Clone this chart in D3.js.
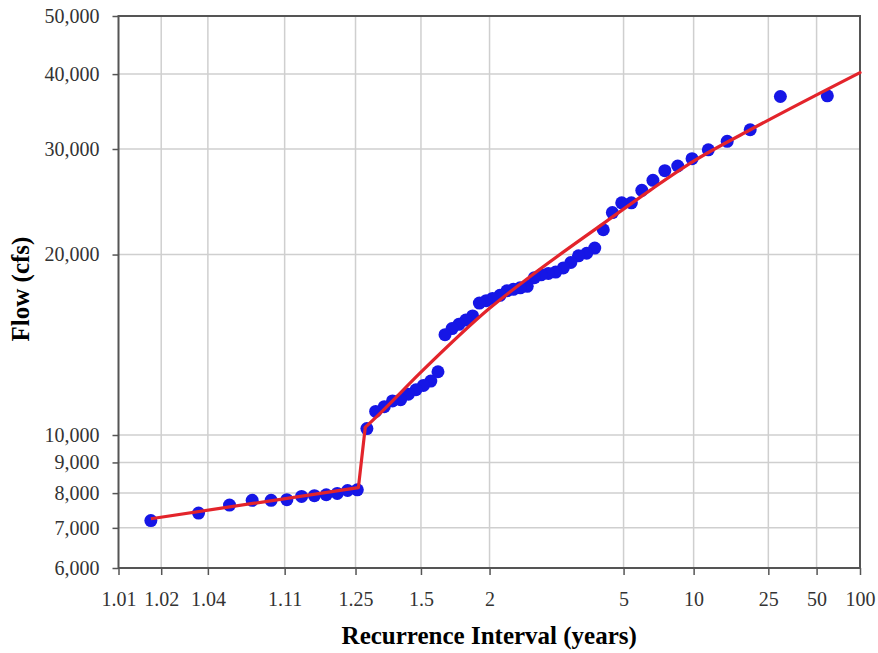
<!DOCTYPE html>
<html>
<head>
<meta charset="utf-8">
<script src="https://cdn.jsdelivr.net/npm/d3@7"></script>
<style>
  body { margin: 0; background: #fff; }
  svg text { font-family: "Liberation Serif", "Times New Roman", serif; }
</style>
</head>
<body>
<div id="chart"></div>
<script>
// annual peaks, ranked largest -> smallest, with their recurrence interval (years)
const recurrence = [59.0, 29.5, 19.67, 14.75, 11.8, 9.83, 8.43, 7.38, 6.56, 5.9,
  5.36, 4.92, 4.54, 4.21, 3.93, 3.69, 3.47, 3.28, 3.11, 2.95,
  2.81, 2.68, 2.57, 2.46, 2.36, 2.27, 2.19, 2.11, 2.03, 1.967,
  1.903, 1.844, 1.788, 1.735, 1.686, 1.639, 1.595, 1.553, 1.513, 1.475,
  1.439, 1.405, 1.372, 1.341, 1.311, 1.283, 1.255, 1.229, 1.204, 1.18,
  1.157, 1.135, 1.113, 1.093, 1.073, 1.054, 1.035, 1.017]
const flows = [36800, 36700, 32300, 30900, 29900, 28900, 28100, 27600, 26600, 25600,
  24400, 24400, 23500, 22000, 20500, 20100, 19900, 19400, 19000, 18700,
  18600, 18500, 18300, 17700, 17600, 17500, 17400, 17100, 16900, 16750,
  16600, 15800, 15550, 15300, 15050, 14700, 12750, 12300, 12100, 11900,
  11700, 11450, 11400, 11150, 10950, 10250, 8100, 8080, 7990, 7950,
  7920, 7900, 7800, 7780, 7780, 7640, 7410, 7200]

// red frequency curve: straight low part, then the fitted part after the jump
const lowT = [1.017, 1.258]
const lowQ = [7250, 8170]
const fitT = [1.278, 1.326, 1.5, 2, 2.55, 4.33, 6.4, 10, 19.6, 100]
const fitQ = [10300, 10870, 12730, 16270, 18540, 22740, 25620, 28630, 32270, 40230]

const xTicks = [1.01, 1.02, 1.04, 1.11, 1.25, 1.5, 2, 5, 10, 25, 50, 100]
const xTickLabels = ['1.01', '1.02', '1.04', '1.11', '1.25', '1.5', '2', '5', '10', '25', '50', '100']
const yTicks = [6000, 7000, 8000, 9000, 10000, 20000, 30000, 40000, 50000]

// inverse standard normal cdf (Acklam)
function normInv(p) {
  const a = [-3.969683028665376e+01, 2.209460984245205e+02, -2.759285104469687e+02, 1.383577518672690e+02, -3.066479806614716e+01, 2.506628277459239e+00]
  const b = [-5.447609879822406e+01, 1.615858368580409e+02, -1.556989798598866e+02, 6.680131188771972e+01, -1.328068155288572e+01]
  const c = [-7.784894002430293e-03, -3.223964580411365e-01, -2.400758277161838e+00, -2.549732539343734e+00, 4.374664141464968e+00, 2.938163982698783e+00]
  const d = [7.784695709041462e-03, 3.224671290700398e-01, 2.445134137142996e+00, 3.754408661907416e+00]
  const pl = 0.02425
  let q, r
  if (p < pl) {
    q = Math.sqrt(-2 * Math.log(p))
    return (((((c[0]*q+c[1])*q+c[2])*q+c[3])*q+c[4])*q+c[5]) / ((((d[0]*q+d[1])*q+d[2])*q+d[3])*q+1)
  }
  if (p > 1 - pl) {
    q = Math.sqrt(-2 * Math.log(1 - p))
    return -(((((c[0]*q+c[1])*q+c[2])*q+c[3])*q+c[4])*q+c[5]) / ((((d[0]*q+d[1])*q+d[2])*q+d[3])*q+1)
  }
  q = p - 0.5
  r = q * q
  return (((((a[0]*r+a[1])*r+a[2])*r+a[3])*r+a[4])*r+a[5])*q / (((((b[0]*r+b[1])*r+b[2])*r+b[3])*r+b[4])*r+1)
}

// recurrence interval -> normal variate of the non-exceedance probability
const zOf = t => normInv(1 - 1 / t)

const width = 878, height = 653
const plot = { left: 118.5, right: 860, top: 16, bottom: 568 }

const x = d3.scaleLinear()
  .domain([zOf(1.01), zOf(100)])
  .range([plot.left, plot.right])
const y = d3.scaleLog()
  .domain([6000, 50000])
  .range([plot.bottom, plot.top])

const svg = d3.select('#chart')
  .append('svg')
    .attr('width', width)
    .attr('height', height)

// gridlines
svg.append('g')
  .selectAll('line')
  .data(xTicks.slice(1, -1))
  .join('line')
    .attr('x1', d => x(zOf(d)))
    .attr('x2', d => x(zOf(d)))
    .attr('y1', plot.top)
    .attr('y2', plot.bottom)
    .attr('stroke', '#cfcfcf')
    .attr('stroke-width', 1.5)

svg.append('g')
  .selectAll('line')
  .data(yTicks.slice(1, -1))
  .join('line')
    .attr('x1', plot.left)
    .attr('x2', plot.right)
    .attr('y1', d => y(d))
    .attr('y2', d => y(d))
    .attr('stroke', '#cfcfcf')
    .attr('stroke-width', 1.5)

// axes
const xAxis = svg.append('g')
  .attr('transform', 'translate(0,' + plot.bottom + ')')
  .call(d3.axisBottom(x)
    .tickValues(xTicks.map(zOf))
    .tickFormat((d, i) => xTickLabels[i])
    .tickSize(7)
    .tickPadding(17))

const yAxis = svg.append('g')
  .attr('transform', 'translate(' + plot.left + ',0)')
  .call(d3.axisLeft(y)
    .tickValues(yTicks)
    .tickFormat(d3.format(','))
    .tickSize(6)
    .tickPadding(13))

for (const ax of [xAxis, yAxis]) {
  ax.select('.domain').remove()
  ax.selectAll('.tick line').attr('stroke', '#555').attr('stroke-width', 1.5)
  ax.selectAll('.tick text')
    .attr('fill', '#333')
    .style('font-size', '20px')
    .style('font-family', '"Liberation Serif", "Times New Roman", serif')
}

// plot frame
svg.append('rect')
  .attr('x', plot.left)
  .attr('y', plot.top)
  .attr('width', plot.right - plot.left)
  .attr('height', plot.bottom - plot.top)
  .attr('fill', 'none')
  .attr('stroke', '#555')
  .attr('stroke-width', 2)

// observed peaks
svg.append('g')
  .selectAll('circle')
  .data(flows)
  .join('circle')
    .attr('cx', (d, i) => x(zOf(recurrence[i])))
    .attr('cy', d => y(d))
    .attr('r', 6.5)
    .attr('fill', '#1616e6')

// frequency curve
const lowPts = lowT.map((t, i) => [x(zOf(t)), y(lowQ[i])])
lowPts.push([x(zOf(fitT[0])), y(fitQ[0])])
const fitPts = fitT.map((t, i) => [x(zOf(t)), y(fitQ[i])])

svg.append('path')
  .attr('d', d3.line()(lowPts))
  .attr('fill', 'none')
  .attr('stroke', '#e3242b')
  .attr('stroke-width', 3.2)
  .attr('stroke-linejoin', 'round')

svg.append('path')
  .attr('d', d3.line().curve(d3.curveMonotoneX)(fitPts))
  .attr('fill', 'none')
  .attr('stroke', '#e3242b')
  .attr('stroke-width', 3.2)
  .attr('stroke-linecap', 'round')

// axis titles
svg.append('text')
  .attr('x', (plot.left + plot.right) / 2)
  .attr('y', 644)
  .attr('text-anchor', 'middle')
  .style('font-size', '25px')
  .style('font-weight', 'bold')
  .text('Recurrence Interval (years)')

svg.append('text')
  .attr('transform', 'translate(29,289) rotate(-90)')
  .attr('text-anchor', 'middle')
  .style('font-size', '25px')
  .style('font-weight', 'bold')
  .text('Flow (cfs)')
</script>
</body>
</html>
